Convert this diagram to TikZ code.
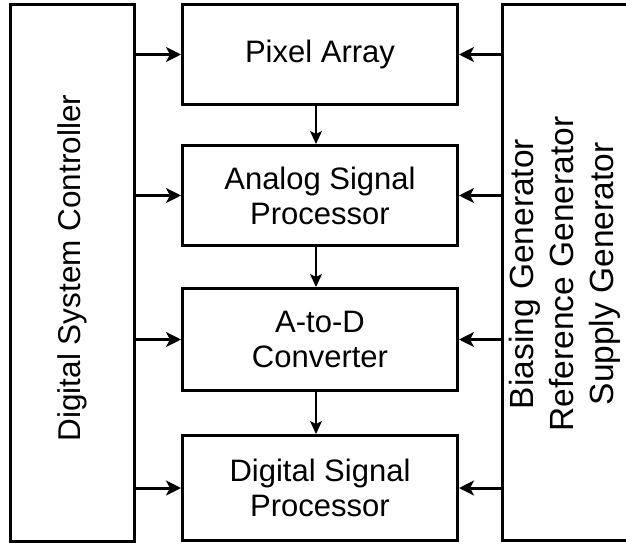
\documentclass[tikz,border=0pt]{standalone}
\usepackage{fontspec}
\setmainfont{Liberation Sans}
\usetikzlibrary{arrows.meta,positioning}

\begin{document}
\begin{tikzpicture}[
          x=1bp, y=-1bp,
          blk/.style={draw, line width=3bp, minimum width=275bp, minimum height=100bp,
                      inner sep=0pt, align=center, font=\fontsize{31bp}{35bp}\selectfont},
          side/.style={draw, line width=3bp, minimum height=537bp, inner sep=0pt},
          lbl/.style={rotate=90, align=center, font=\fontsize{31.5bp}{40bp}\selectfont},
          ctrl/.style={-{Stealth[length=15bp, width=15bp, inset=4bp]}, line width=3bp},
          flow/.style={-{Stealth[length=13bp, width=12bp, inset=3bp]}, line width=1.5bp}
        ]
        \clip (0,0) rectangle (626,547);
        \node[blk] (pix) at (320,54.5) {Pixel Array};
        \node[blk, below=38bp of pix] (asp) {Analog Signal\\Processor};
        \node[blk, below=40bp of asp, minimum height=102bp] (adc) {A-to-D\\Converter};
        \node[blk, below=42bp of adc, minimum height=105bp] (dsp) {Digital Signal\\Processor};
        \node[side, minimum width=124bp] (dsc) at (72.5,273) {};
        \node[lbl] (dsctxt) at (72.5,268) {Digital System Controller};
        \node[side, minimum width=160bp, minimum height=536bp] (gen) at (582.5,272.5) {};
        \node[lbl, font=\fontsize{33.5bp}{40bp}\selectfont] (gentxt) at (565,274)
          {Biasing Generator\\Reference Generator\\Supply Generator};
        \foreach \b in {pix,asp,adc,dsp} {
          \draw[ctrl] (dsc.east |- \b.west) -- (\b.west);
          \draw[ctrl] (gen.west |- \b.east) -- (\b.east);
        }
        \draw[flow] ([xshift=-4bp]pix.south) -- ([xshift=-4bp]asp.north);
        \draw[flow] ([xshift=-4bp]asp.south) -- ([xshift=-4bp]adc.north);
        \draw[flow] ([xshift=-4bp]adc.south) -- ([xshift=-4bp]dsp.north);
      \end{tikzpicture}
\end{document}
